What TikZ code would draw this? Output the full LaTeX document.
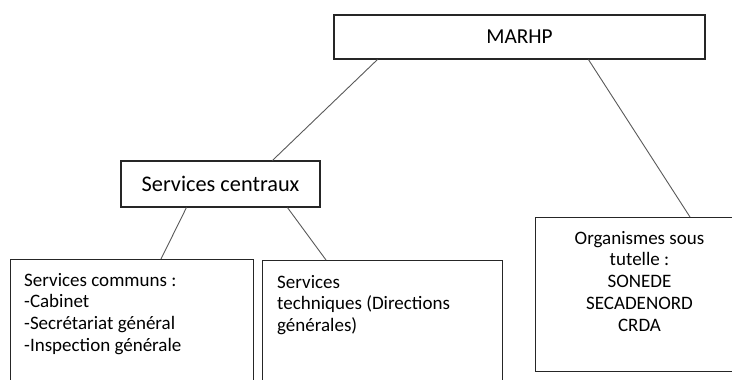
\documentclass[tikz,border=0pt]{standalone}
\usepackage{fontspec}
\setmainfont{Carlito}
\usetikzlibrary{positioning,calc}
\tikzstyle{box}=[draw=black!85, line width=1.1pt, inner sep=0pt]
\tikzstyle{link}=[draw=black!65, line width=0.9pt]
\tikzstyle{boxtext}=[inner sep=0pt, align=left, font=\fontsize{19}{21.7}\selectfont]

\begin{document}
\begin{tikzpicture}[x=1pt, y=-1pt]

  \useasboundingbox (0,0) rectangle (732,380);
  \clip (0,0) rectangle (732,380);

  % top and middle level
  \node[box, minimum width=371pt, minimum height=44pt, font=\fontsize{21.3}{25}\selectfont] (marhp) at (519.5,37) {MARHP};
  \node[box, minimum width=199pt, minimum height=46pt, font=\fontsize{22.3}{26}\selectfont] (centraux) at (220.5,184) {Services centraux};

  % lower boxes (cut by the page edge)
  \node[box, anchor=north west, minimum width=243pt, minimum height=150pt] (communs) at (10,259) {};
  \node[box, anchor=north west, minimum width=240pt, minimum height=150pt] (techniques) at (262,260) {};
  \node[box, anchor=north west, minimum width=209pt, minimum height=154pt] (tutelle) at (535,217) {};

  \node[boxtext, anchor=north west] (communstext) at ([shift={(14,14)}]communs.north west)
       {Services communs :\\-Cabinet\\-Secrétariat général\\-Inspection générale};
  \node[boxtext, anchor=north west] (techtext) at ([shift={(15,15)}]techniques.north west)
       {Services\\techniques (Directions\\générales)};
  \node[boxtext, align=center, anchor=north] (tuteltext) at ([shift={(104.5,14)}]tutelle.north west)
       {Organismes sous\\tutelle :\\SONEDE\\SECADENORD\\CRDA};

  \foreach \source/\sx/\dest/\dx in {marhp/44/centraux/152, marhp/255/tutelle/155,
                                     centraux/66/communs/151, centraux/167/techniques/64}
     \draw[link] ([xshift=\sx pt]\source.south west) -- ([xshift=\dx pt]\dest.north west);

\end{tikzpicture}
\end{document}
